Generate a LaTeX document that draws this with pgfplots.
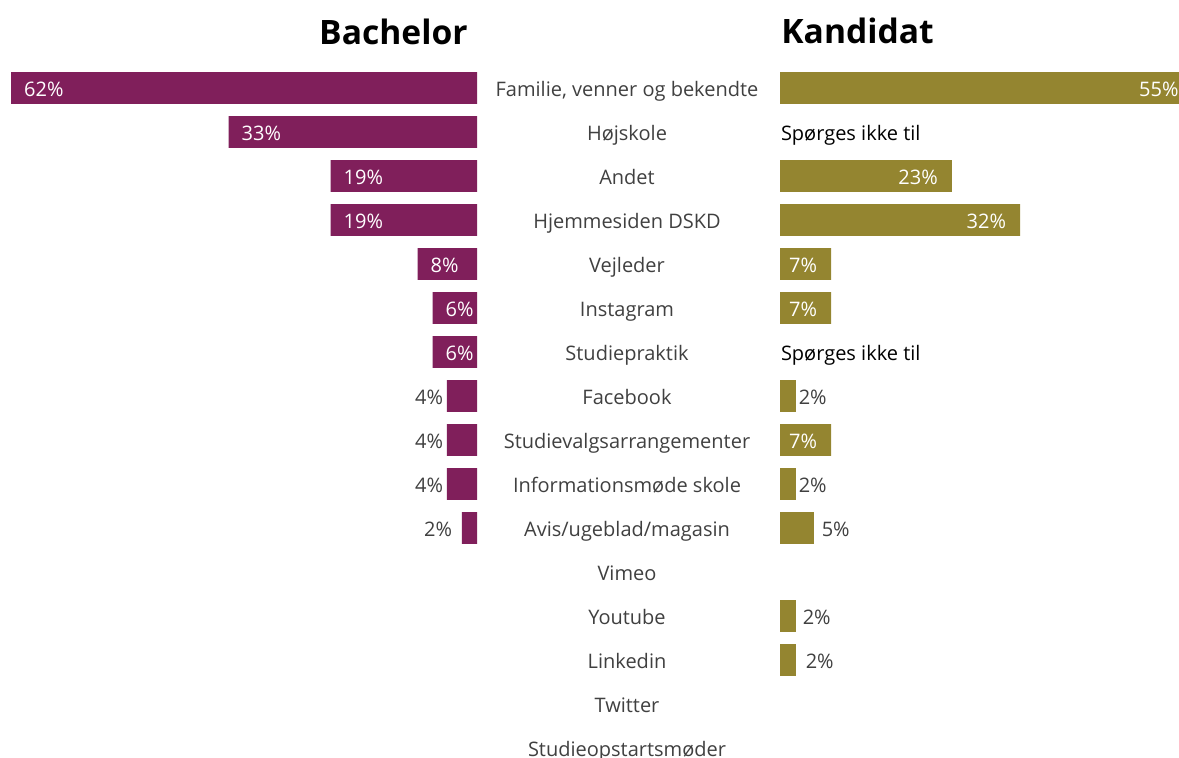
\documentclass[border=0pt]{standalone}
\usepackage{pgfplots}
\pgfplotsset{compat=1.18}
\usepackage{fontspec}
\setmainfont{Open Sans}
\definecolor{bach}{HTML}{801F5B}
\definecolor{kand}{HTML}{948530}
\definecolor{lab}{HTML}{404040}
\tikzset{lbl/.style={inner sep=0pt, outer sep=0pt, font=\fontsize{10}{12}\selectfont, yshift=-4pt}}
\begin{document}
\begin{tikzpicture}[x=0.5pt,y=-0.5pt]
\useasboundingbox (0,0) rectangle (1179,757);
\clip (0,0) rectangle (1179,757);
\node[anchor=base east,inner sep=0pt,font=\fontsize{16.8}{20}\selectfont\bfseries] at (468,44) {Bachelor};
\node[anchor=base west,inner sep=0pt,font=\fontsize{16.8}{20}\selectfont\bfseries] at (781,43) {Kandidat};
% Bachelor
\begin{axis}[
  at={(238.5pt,-33pt)}, anchor=north east,
  scale only axis, width=233pt, height=352pt,
  xmin=0, xmax=62.13, x dir=reverse,
  ymin=-0.5, ymax=15.5, y dir=reverse,
  xbar, bar width=0.72, bar shift=0pt,
  axis line style={draw=none}, xtick=\empty, ytick=\empty,
  clip=false,
]
\addplot[fill=bach, draw=none] coordinates {(62.1,0) (33.1,1) (19.5,2) (19.5,3) (7.9,4) (5.9,5) (5.9,6) (4,7) (4,8) (4,9) (2,10)};
\node[lbl,anchor=base west,xshift=6.5pt,text=white] at (axis cs:62.1,0) {62\%};
\node[lbl,anchor=base west,xshift=6.5pt,text=white] at (axis cs:33.1,1) {33\%};
\node[lbl,anchor=base west,xshift=6.5pt,text=white] at (axis cs:19.5,2) {19\%};
\node[lbl,anchor=base west,xshift=6.5pt,text=white] at (axis cs:19.5,3) {19\%};
\node[lbl,anchor=base west,xshift=6.5pt,text=white] at (axis cs:7.9,4) {8\%};
\node[lbl,anchor=base west,xshift=6.5pt,text=white] at (axis cs:5.9,5) {6\%};
\node[lbl,anchor=base west,xshift=6.5pt,text=white] at (axis cs:5.9,6) {6\%};
\node[lbl,anchor=base east,xshift=-2pt,text=lab] at (axis cs:4,7) {4\%};
\node[lbl,anchor=base east,xshift=-2pt,text=lab] at (axis cs:4,8) {4\%};
\node[lbl,anchor=base east,xshift=-2pt,text=lab] at (axis cs:4,9) {4\%};
\node[lbl,anchor=base east,xshift=-5pt,text=lab] at (axis cs:2,10) {2\%};
\end{axis}
% Kandidat
\begin{axis}[
  at={(390pt,-33pt)}, anchor=north west,
  scale only axis, width=206.25pt, height=352pt,
  xmin=0, xmax=55,
  ymin=-0.5, ymax=15.5, y dir=reverse,
  xbar, bar width=0.72, bar shift=0pt,
  axis line style={draw=none}, xtick=\empty,
  ytick={0,...,15},
  yticklabels={{Familie, venner og bekendte},Højskole,Andet,Hjemmesiden DSKD,Vejleder,Instagram,Studiepraktik,Facebook,Studievalgsarrangementer,Informationsmøde skole,Avis/ugeblad/magasin,Vimeo,Youtube,Linkedin,Twitter,Studieopstartsmøder},
  yticklabel style={anchor=base, inner sep=0pt, xshift=-76.5pt, yshift=-4pt, text=lab, font=\fontsize{10}{12}\selectfont},
  major tick length=0pt,
  clip=false,
]
\addplot[fill=kand, draw=none] coordinates {(55,0) (22.9,2) (32,3) (6.8,4) (6.8,5) (2.1,7) (6.8,8) (2.1,9) (4.5,10) (2.1,12) (2.1,13)};
\node[lbl,anchor=base east,xshift=-7pt,text=white] at (axis cs:55,0) {55\%};
\node[lbl,anchor=base east,xshift=-7pt,text=white] at (axis cs:22.9,2) {23\%};
\node[lbl,anchor=base east,xshift=-7pt,text=white] at (axis cs:32,3) {32\%};
\node[lbl,anchor=base east,xshift=-7pt,text=white] at (axis cs:6.8,4) {7\%};
\node[lbl,anchor=base east,xshift=-7pt,text=white] at (axis cs:6.8,5) {7\%};
\node[lbl,anchor=base east,xshift=-7pt,text=white] at (axis cs:6.8,8) {7\%};
\node[lbl,anchor=base west,xshift=1.5pt,text=lab] at (axis cs:2.1,7) {2\%};
\node[lbl,anchor=base west,xshift=1.5pt,text=lab] at (axis cs:2.1,9) {2\%};
\node[lbl,anchor=base west,xshift=4pt,text=lab] at (axis cs:4.5,10) {5\%};
\node[lbl,anchor=base west,xshift=3.5pt,text=lab] at (axis cs:2.1,12) {2\%};
\node[lbl,anchor=base west,xshift=5pt,text=lab] at (axis cs:2.1,13) {2\%};
\node[lbl,anchor=base west,xshift=0.5pt,text=black] at (axis cs:0,1) {Spørges ikke til};
\node[lbl,anchor=base west,xshift=0.5pt,text=black] at (axis cs:0,6) {Spørges ikke til};
\end{axis}
\end{tikzpicture}
\end{document}
